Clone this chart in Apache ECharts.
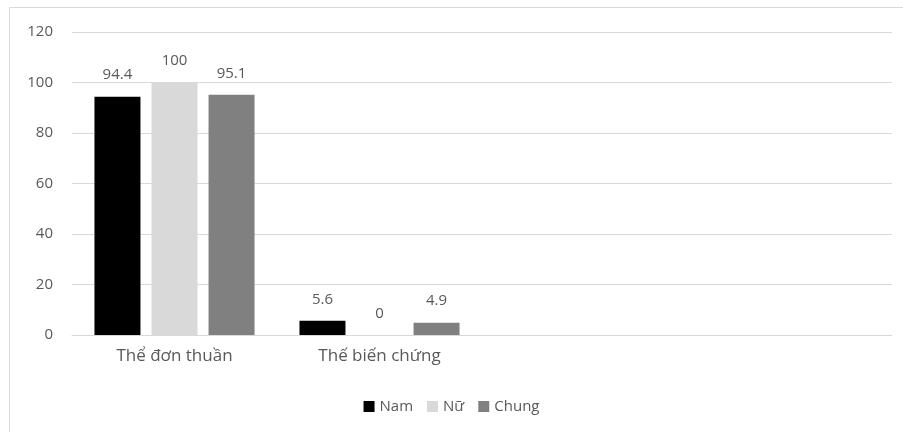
<!DOCTYPE html>
<html>
<head>
<meta charset="utf-8">
<script src="https://cdn.jsdelivr.net/npm/echarts@6/dist/echarts.min.js"></script>
<style>
  html, body { margin: 0; padding: 0; background: #fff; }
  #chart { width: 903px; height: 432px; }
</style>
</head>
<body>
<div id="chart"></div>
<script>
// data
var categories = ['Thể đơn thuần', 'Thế biến chứng', '', '']
var namValues = [94.4, 5.6]
var nuValues = [100, 0]
var chungValues = [95.1, 4.9]
var seriesNames = ['Nam', 'Nữ', 'Chung']
var yTicks = { min: 0, max: 120, interval: 20 }

var fontName = '"Open Sans", "Noto Sans", sans-serif'
var textColor = '#595959'

var chart = echarts.init(document.getElementById('chart'))

function barSeries(name, values, color) {
  return {
    name: name,
    type: 'bar',
    data: values,
    barWidth: 46,
    barGap: '24%',
    itemStyle: { color: color },
    label: {
      show: true,
      position: 'top',
      distance: 14,
      color: textColor,
      fontFamily: fontName,
      fontSize: 15
    }
  }
}

chart.setOption({
  animation: false,
  textStyle: { fontFamily: fontName },
  graphic: [{
    type: 'rect',
    shape: { x: 9.5, y: 7.5, width: 900, height: 430 },
    style: { fill: 'none', stroke: '#d9d9d9', lineWidth: 1 },
    silent: true
  }],
  grid: {
    left: 72,
    right: 11,
    top: 32,
    bottom: 97
  },
  legend: {
    data: seriesNames,
    bottom: 13,
    left: 'center',
    itemWidth: 11,
    itemHeight: 11,
    itemGap: 14,
    icon: 'rect',
    textStyle: { color: textColor, fontSize: 15, fontFamily: fontName }
  },
  xAxis: {
    type: 'category',
    data: categories,
    axisLine: { lineStyle: { color: '#d9d9d9' } },
    axisTick: { show: false },
    axisLabel: {
      color: textColor,
      fontSize: 17,
      margin: 13,
      fontFamily: fontName
    }
  },
  yAxis: {
    type: 'value',
    min: yTicks.min,
    max: yTicks.max,
    interval: yTicks.interval,
    axisLine: { show: false },
    axisTick: { show: false },
    axisLabel: {
      color: textColor,
      fontSize: 15,
      margin: 19,
      fontFamily: fontName
    },
    splitLine: { lineStyle: { color: '#d9d9d9' } }
  },
  series: [
    barSeries(seriesNames[0], namValues, '#000000'),
    barSeries(seriesNames[1], nuValues, '#d9d9d9'),
    barSeries(seriesNames[2], chungValues, '#808080')
  ]
})
</script>
</body>
</html>
